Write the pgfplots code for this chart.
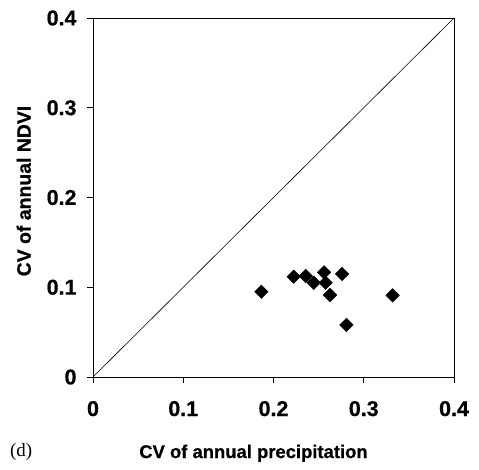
\documentclass[border=0pt]{standalone}
\usepackage{pgfplots}
\pgfplotsset{compat=1.18}
\usepackage{fontspec}
\setmainfont{Liberation Sans}[BoldFeatures={FakeBold=0.6}]
\newfontfamily\seriffont{Liberation Serif}
\begin{document}
\begin{tikzpicture}
\useasboundingbox (-93bp,-93bp) rectangle (386bp,377bp);
\begin{axis}[
  at={(0,0)}, anchor=origin,
  scale only axis, width=361bp, height=359bp,
  xmin=0, xmax=0.4, ymin=0, ymax=0.4,
  xtick={0,0.1,0.2,0.3,0.4}, ytick={0,0.1,0.2,0.3,0.4},
  xtick pos=bottom, ytick pos=left,
  tick align=outside, major tick length=6bp,
  axis line style={line width=0.8bp},
  tick style={line width=0.7bp, black},
  /pgf/number format/assume math mode=true,
  ticklabel style={font=\bfseries\fontsize{21.5}{22}\selectfont},
  xticklabel style={anchor=base, yshift=-33bp},
  yticklabel style={xshift=-7bp},
  clip=false,
  xlabel={CV of annual precipitation},
  ylabel={CV of annual NDVI},
  xlabel style={at={(axis cs:0.1778,-0.0903)}, anchor=base, font=\bfseries\fontsize{18.5}{20}\selectfont},
  ylabel style={at={(axis cs:-0.069,0.2072)}, anchor=base, font=\bfseries\fontsize{19.5}{20}\selectfont},
]
\addplot[line width=0.6bp, black] coordinates {(0,0) (0.4,0.4)};
\addplot[only marks, mark=square*, mark size=4.8bp, mark options={rotate=45, fill=black, draw=black}] coordinates {
(0.1866,0.095)
(0.2224,0.1118)
(0.2357,0.1125)
(0.2446,0.105)
(0.2560,0.1166)
(0.2578,0.105)
(0.2760,0.1148)
(0.2626,0.0914)
(0.2808,0.058)
(0.332,0.091)
};
\node[anchor=base west, inner sep=0pt, font=\seriffont\fontsize{19}{20}\selectfont] at (axis cs:-0.092,-0.0891) {(d)};
\end{axis}
\end{tikzpicture}
\end{document}
